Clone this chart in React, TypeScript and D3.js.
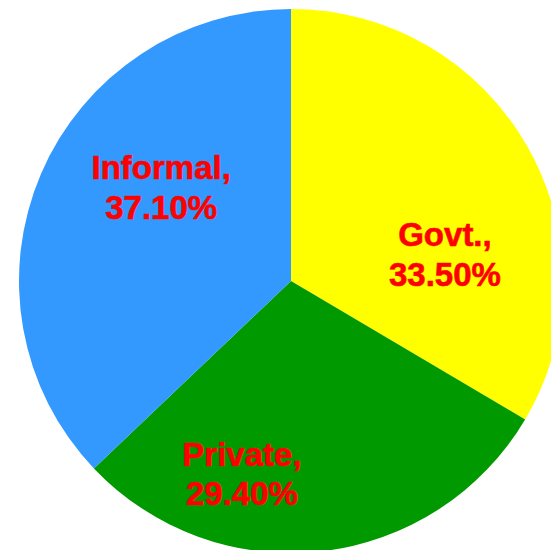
import React from "react";
import * as d3 from "d3";

const categories = ["Govt.", "Private", "Informal"];
const values = [33.5, 29.4, 37.1];
const valueLabels = ["33.50%", "29.40%", "37.10%"];
const colors = ["#FFFF00", "#009900", "#3399FF"];

// label placement (polar: degrees clockwise from 12 o'clock, fraction of radius)
const labelPolar: [number, number][] = [
  [79.9, 0.575],
  [194.3, 0.73],
  [306, 0.59],
];

const W = 551;
const H = 550;
const cx = 291;
const cy = 281;
const R = 272;

export default function App() {
  const pie = d3
    .pie<number>()
    .sort(null)
    .value((d) => d)
    .startAngle(0)
    .endAngle(2 * Math.PI);
  const arcs = pie(values);
  const arc = d3.arc<d3.PieArcDatum<number>>().innerRadius(0).outerRadius(R);

  return (
    <svg
      width={W}
      height={H}
      style={{ position: "absolute", left: 0, top: 0, background: "#fff" }}
    >
      <g transform={`translate(${cx},${cy})`}>
        {arcs.map((a, i) => (
          <path key={i} d={arc(a) || ""} fill={colors[i]} />
        ))}
        {arcs.map((a, i) => {
          const [deg, f] = labelPolar[i];
          const t = (deg * Math.PI) / 180;
          const x = R * f * Math.sin(t);
          const y = -R * f * Math.cos(t);
          return (
            <text
              key={"t" + i}
              x={x}
              y={y}
              textAnchor="middle"
              fill="#FF0000"
              stroke="#FF0000"
              strokeWidth={0.6}
              fontFamily="'Liberation Sans', Arial, sans-serif"
              fontWeight="bold"
              fontSize={33}
            >
              <tspan x={x} dy={-7.5}>
                {categories[i] + ","}
              </tspan>
              <tspan x={x} dy={39.5}>
                {valueLabels[i]}
              </tspan>
            </text>
          );
        })}
      </g>
    </svg>
  );
}
